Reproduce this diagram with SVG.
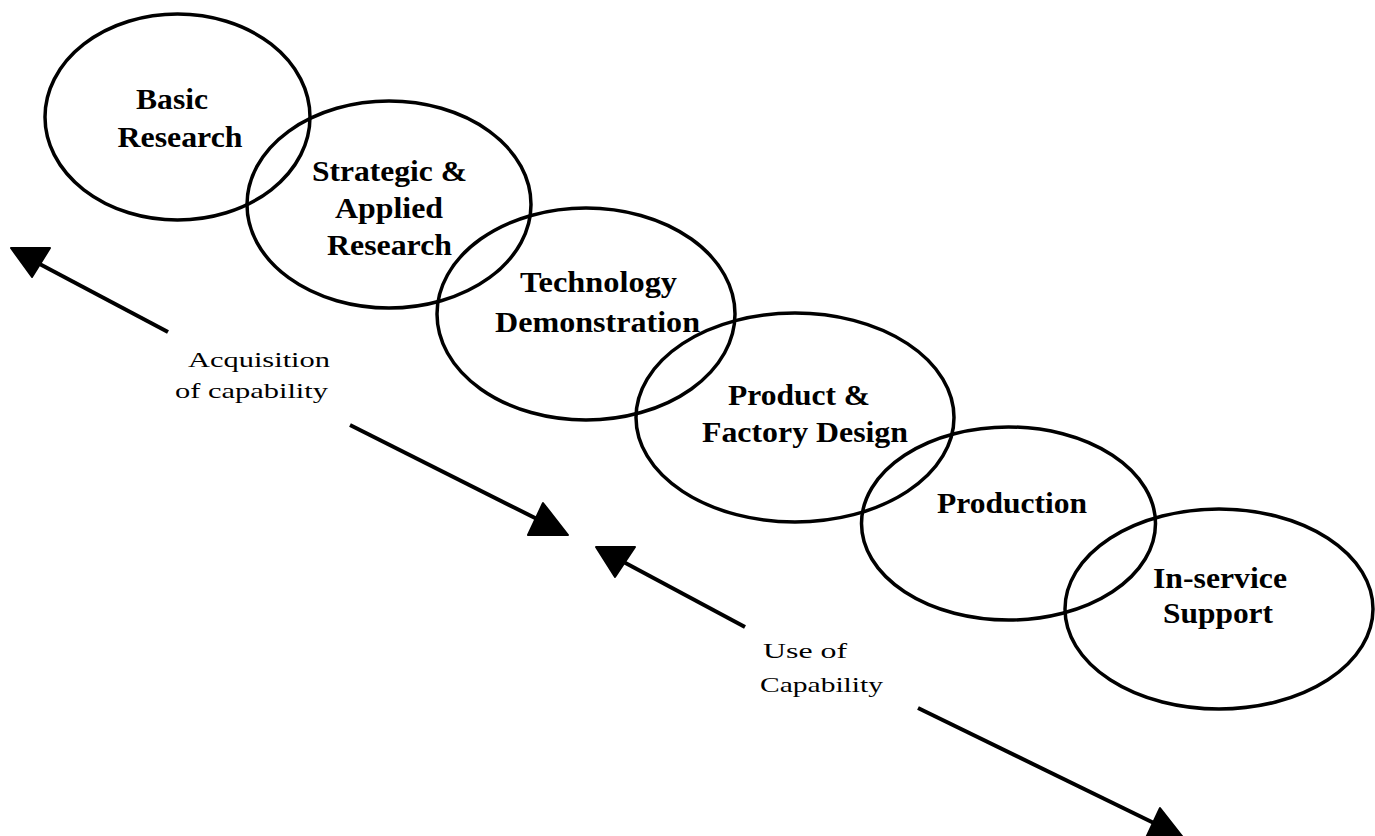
<svg xmlns="http://www.w3.org/2000/svg" width="1375" height="836" viewBox="0 0 1375 836">
  <style>
    .stage { fill: none; stroke: #000; stroke-width: 3.5; }
    .title { font-family: "Liberation Serif", "Times New Roman", serif; font-weight: bold; font-size: 29px; fill: #000; text-anchor: middle; }
    .note { font-family: "Liberation Serif", "Times New Roman", serif; font-size: 21px; fill: #000; text-anchor: middle; }
    .shaft { stroke: #000; stroke-width: 4; fill: none; }
    .head { fill: #000; stroke: #000; stroke-width: 2; stroke-linejoin: round; }
  </style>
  <rect width="1375" height="836" fill="#fff"/>

  <g id="basic-research">
    <ellipse class="stage" cx="177.5" cy="117" rx="132.5" ry="103"/>
    <text class="title" x="172" y="109" textLength="72" lengthAdjust="spacingAndGlyphs">Basic</text>
    <text class="title" x="180" y="147" textLength="125" lengthAdjust="spacingAndGlyphs">Research</text>
  </g>

  <g id="strategic-applied-research">
    <ellipse class="stage" cx="389" cy="204.5" rx="142" ry="103.5"/>
    <text class="title" x="389.5" y="181" textLength="155" lengthAdjust="spacingAndGlyphs">Strategic &amp;</text>
    <text class="title" x="389" y="218" textLength="108" lengthAdjust="spacingAndGlyphs">Applied</text>
    <text class="title" x="389.5" y="255" textLength="125" lengthAdjust="spacingAndGlyphs">Research</text>
  </g>

  <g id="technology-demonstration">
    <ellipse class="stage" cx="586" cy="314" rx="149" ry="106"/>
    <text class="title" x="598.5" y="292" textLength="157" lengthAdjust="spacingAndGlyphs">Technology</text>
    <text class="title" x="597.5" y="332" textLength="205" lengthAdjust="spacingAndGlyphs">Demonstration</text>
  </g>

  <g id="product-factory-design">
    <ellipse class="stage" cx="795" cy="417.5" rx="159" ry="104.5"/>
    <text class="title" x="799" y="405" textLength="142" lengthAdjust="spacingAndGlyphs">Product &amp;</text>
    <text class="title" x="805" y="442" textLength="206" lengthAdjust="spacingAndGlyphs">Factory Design</text>
  </g>

  <g id="production">
    <ellipse class="stage" cx="1008.5" cy="523.5" rx="147" ry="96.5"/>
    <text class="title" x="1012" y="513" textLength="150" lengthAdjust="spacingAndGlyphs">Production</text>
  </g>

  <g id="in-service-support">
    <ellipse class="stage" cx="1219" cy="609" rx="154" ry="100"/>
    <text class="title" x="1220" y="588" textLength="134" lengthAdjust="spacingAndGlyphs">In-service</text>
    <text class="title" x="1218" y="623" textLength="110" lengthAdjust="spacingAndGlyphs">Support</text>
  </g>

  <g id="connectors">
    <!-- acquisition of capability: pointing back and forward -->
    <line class="shaft" x1="168" y1="332" x2="34" y2="261"/>
    <polygon class="head" points="11,248 50,248 32,277"/>
    <line class="shaft" x1="350" y1="425" x2="545" y2="523"/>
    <polygon class="head" points="543,503 528,535 568,535"/>
    <!-- use of capability -->
    <line class="shaft" x1="745" y1="627" x2="618" y2="559"/>
    <polygon class="head" points="596,547 635,547 615,577"/>
    <line class="shaft" x1="918" y1="708" x2="1160" y2="826"/>
    <polygon class="head" points="1160,808 1145,840 1185,840"/>
  </g>

  <g id="labels">
    <text class="note" x="259" y="367" textLength="142" lengthAdjust="spacingAndGlyphs">Acquisition</text>
    <text class="note" x="251.5" y="398" textLength="153" lengthAdjust="spacingAndGlyphs">of capability</text>
    <text class="note" x="805" y="658" textLength="84" lengthAdjust="spacingAndGlyphs">Use of</text>
    <text class="note" x="821.5" y="692" textLength="123" lengthAdjust="spacingAndGlyphs">Capability</text>
  </g>
</svg>
